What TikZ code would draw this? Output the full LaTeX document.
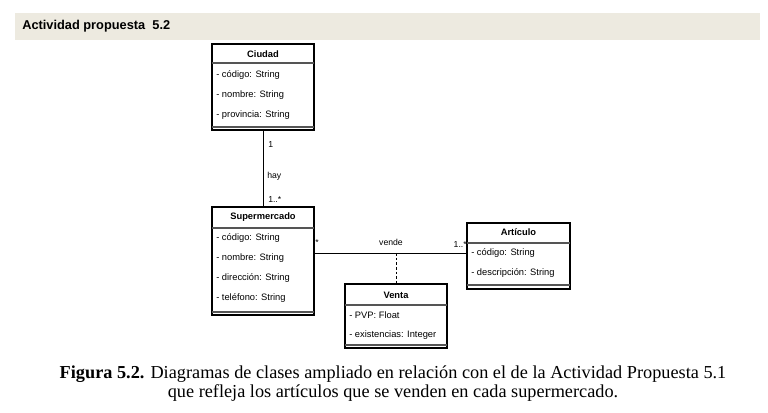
\documentclass[tikz,border=0pt]{standalone}
\usepackage{fontspec}
\setmainfont{Liberation Serif}
\newfontfamily\umlfont{Liberation Sans}
\usepackage{xcolor}
\definecolor{bandbg}{HTML}{EDEAE0}
\definecolor{sepgray}{HTML}{555555}
\usepackage{tikz}
\usetikzlibrary{positioning, calc}

\tikzset{
  classbox/.style={draw, line width=0.8pt, inner sep=0pt},
  classtitle/.style={font=\umlfont\fontsize{7}{8}\selectfont\bfseries},
  attrtext/.style={font=\umlfont\fontsize{7}{8}\selectfont, anchor=west, inner sep=0pt},
  multtext/.style={font=\umlfont\fontsize{6.5}{7}\selectfont, inner sep=0pt},
  sepline/.style={draw=sepgray, line width=0.9pt},
  assoc/.style={draw, line width=0.7pt}
}

\begin{document}
\begin{tikzpicture}[x=0.75pt, y=-0.75pt]
        \useasboundingbox (0,0) rectangle (768,413);
        % heading band
        \fill[bandbg] (15,13) rectangle (760,40);
        \node[anchor=west, inner xsep=0pt, font=\umlfont\fontsize{9.6}{12}\selectfont\bfseries] (heading) at (22,26) {Actividad propuesta\ \ 5.2};

        % classes
        \node[classbox, minimum width=76.5pt, minimum height=64.5pt] (ciudad) at (263,87) {};
        \node[classbox, minimum width=76.5pt, minimum height=81pt] (super) at (263,261) {};
        \node[classbox, minimum width=77.25pt, minimum height=49.5pt] (articulo) at (518.5,256) {};
        \node[classbox, minimum width=76.5pt, minimum height=48pt] (venta) at (396,316) {};

        % Ciudad
        \node[classtitle] (ciudadT) at (263,54) {Ciudad};
        \draw[sepline] (212,63) -- (314,63);
        \node[attrtext] (c1) at (216,75) {- código: String};
        \node[attrtext] (c2) at (216,95) {- nombre: String};
        \node[attrtext] (c3) at (216,115) {- provincia: String};
        \draw[sepline] (212,127) -- (314,127);

        % Supermercado
        \node[classtitle] (superT) at (263,217) {Supermercado};
        \draw[sepline] (212,228) -- (314,228);
        \node[attrtext] (s1) at (216,238) {- código: String};
        \node[attrtext] (s2) at (216,258) {- nombre: String};
        \node[attrtext] (s3) at (216,278) {- dirección: String};
        \node[attrtext] (s4) at (216,298) {- teléfono: String};
        \draw[sepline] (212,312) -- (314,312);

        % Articulo
        \node[classtitle] (articuloT) at (518.5,232) {Artículo};
        \draw[sepline] (467,243) -- (570,243);
        \node[attrtext] (a1) at (471,253) {- código: String};
        \node[attrtext] (a2) at (471,273) {- descripción: String};
        \draw[sepline] (467,285) -- (570,285);

        % Venta
        \node[classtitle] (ventaT) at (396,295) {Venta};
        \draw[sepline] (345,305) -- (447,305);
        \node[attrtext] (v1) at (349,315) {- PVP: Float};
        \node[attrtext] (v2) at (349,335) {- existencias: Integer};
        \draw[sepline] (345,345) -- (447,345);

        % associations
        \draw[assoc] (ciudad.south) -- (super.north);
        \node[multtext, anchor=west] (m1) at (268,145) {1};
        \node[multtext, anchor=west] (hay) at (267,176) {hay};
        \node[multtext, anchor=west] (m2) at (268,200) {1..*};

        \coordinate (vmid) at (396,253);
        \draw[assoc] (super.east |- vmid) -- (articulo.west |- vmid);
        \draw[assoc, dashed, dash pattern=on 2pt off 1.5pt] (vmid) -- (venta.north);
        \node[multtext, anchor=west] (m3) at (315,243) {*};
        \node[multtext] (vende) at (391,242) {vende};
        \node[multtext, anchor=east] (m4) at (467,245) {1..*};

        % caption
        \node[align=center, font=\fontsize{13.7}{14.3}\selectfont] (caption) at (393,384)
          {\textbf{Figura 5.2.} Diagramas de clases ampliado en relación con el de la Actividad Propuesta 5.1\\
           que refleja los artículos que se venden en cada supermercado.};
      \end{tikzpicture}
\end{document}
